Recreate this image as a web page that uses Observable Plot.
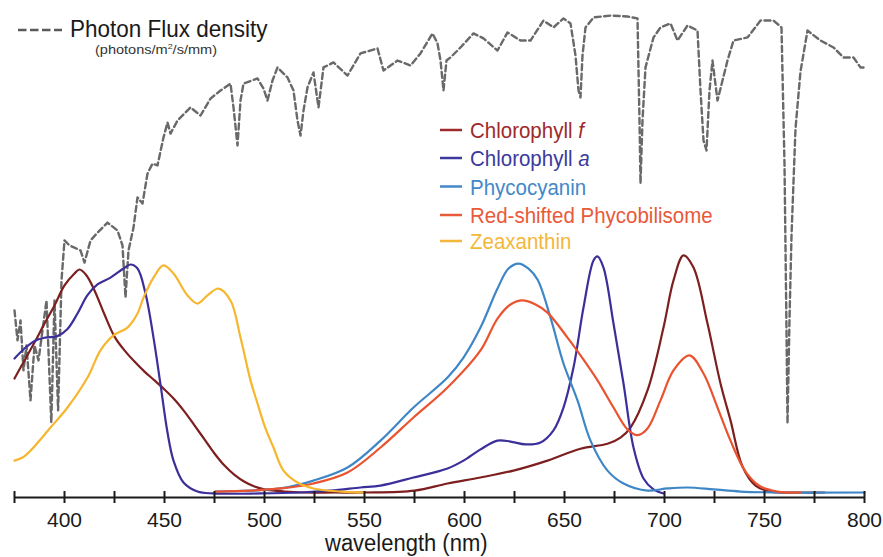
<!DOCTYPE html>
<html><head><meta charset="utf-8">
<script src="https://cdn.jsdelivr.net/npm/d3@7"></script>
<script src="https://cdn.jsdelivr.net/npm/@observablehq/plot@0.6"></script>
<style>
body{margin:0;background:#fff;}
#wrap{position:relative;width:883px;height:557px;}
#wrap svg{position:absolute;left:0;top:0;}
</style></head><body><div id="wrap"></div>
<script>
const FONT = '"Liberation Sans", Arial, Helvetica, sans-serif';

// Photon flux density (relative units, same scale as absorbance)
const fluxPts = [
[375,0.786],[376.5,0.660],[378,0.744],[379.5,0.534],[381,0.639],[383,0.408],[385,0.639],[387,0.576],[389,0.702],[391,0.828],
[393.4,0.315],[395,0.828],[396.8,0.366],[398.5,0.912],[400,1.080],[402.5,1.059],[405,1.050],[408,1.038],[410,0.987],[413,1.080],
[416.5,1.113],[421.5,1.155],[426.5,1.122],[429,1.059],[430.5,0.840],[432,1.038],[434.5,1.134],[436.5,1.261],[439,1.235],[441.5,1.361],
[444,1.403],[446.5,1.395],[449.5,1.513],[451.5,1.576],[453,1.529],[456.5,1.584],[463,1.639],[468,1.605],[473,1.676],[478,1.710],
[483,1.739],[484.5,1.639],[486.5,1.479],[488,1.668],[489.5,1.739],[496.5,1.761],[499.5,1.718],[501.5,1.668],[504,1.752],[506.5,1.807],
[511.5,1.765],[514.5,1.710],[516.5,1.584],[518,1.521],[519.5,1.626],[521.5,1.723],[524.5,1.786],[527,1.639],[529.5,1.807],[534.5,1.828],
[541.5,1.773],[548,1.866],[556.5,1.887],[559.5,1.794],[566.5,1.836],[573,1.815],[578,1.866],[584,1.950],[586.5,1.908],[588,1.836],
[589.5,1.710],[591,1.836],[593,1.849],[598,1.891],[604.5,1.950],[609.5,1.929],[616.5,1.878],[621.5,1.954],[628,1.920],[633,1.920],
[639.5,2.004],[644.5,1.975],[649.5,2.013],[653,1.992],[655.5,1.857],[657,1.710],[658,1.681],[659,1.857],[660.5,1.975],[664.5,2.017],
[673,2.025],[681.5,2.021],[686.5,2.013],[687.5,1.584],[688,1.319],[689,1.584],[690.5,1.807],[694.5,1.933],[698,1.975],[703,1.992],
[706.5,1.920],[711.5,1.983],[716.5,1.962],[718,1.710],[719.5,1.500],[721,1.458],[722.5,1.710],[724,1.836],[726.5,1.668],[729,1.752],
[731.5,1.836],[734.5,1.920],[741.5,1.933],[748,2.004],[754.5,2.004],[758.5,1.975],[760,1.400],[761,0.700],[761.5,0.311],[762.5,0.750],
[763.5,1.100],[765.5,1.550],[768,1.790],[771.5,1.962],[778,1.920],[784.5,1.891],[789.5,1.849],[794.5,1.849],[798,1.807],[800,1.807]
];

const chlF = [
[375,0.500],[380,0.576],[385,0.651],[390,0.731],[395,0.807],[400,0.891],[405,0.941],[407.5,0.958],[411,0.933],[415,0.870],
[420,0.769],[425,0.676],[430,0.618],[435,0.571],[440,0.529],[445,0.492],[450,0.454],[455,0.412],[460,0.361],[465,0.303],
[470,0.244],[475,0.185],[480,0.134],[485,0.095],[490,0.066],[495,0.046],[500,0.034],[510,0.025],[520,0.021],[535,0.021],
[550,0.021],[575,0.029],[591.5,0.059],[608,0.084],[624.5,0.113],[641.5,0.155],[658,0.205],[671.5,0.226],[678,0.252],[683,0.294],
[691.5,0.450],[699.5,0.714],[704.5,0.912],[709.5,1.017],[714.5,0.966],[721.5,0.731],[728,0.479],[733,0.324],[739,0.130],[745.5,0.050],
[753,0.025],[768,0.021],[780,0.021]
];

const chlA = [
[375,0.584],[380,0.626],[385.5,0.660],[390.5,0.672],[396.5,0.678],[401.5,0.708],[406.5,0.773],[411.5,0.850],[416.5,0.895],[423,0.924],
[429.5,0.962],[433,0.979],[436.5,0.962],[440.5,0.857],[444.5,0.672],[448,0.475],[451.5,0.273],[454.5,0.155],[459.5,0.063],[466.5,0.025],
[474.5,0.017],[498,0.017],[518,0.021],[533,0.029],[548,0.042],[558,0.050],[574.5,0.084],[591.5,0.122],[599.5,0.155],[608,0.202],
[616.5,0.239],[623,0.235],[630.5,0.223],[638,0.231],[644.5,0.282],[649.5,0.378],[654.5,0.546],[659.5,0.798],[664.5,0.996],[666.5,1.013],
[669.5,0.966],[674.5,0.731],[679.5,0.479],[684.5,0.210],[689.5,0.080],[694.5,0.034],[699.5,0.017]
];

const phycocyanin = [
[475.5,0.025],[493,0.029],[508,0.038],[524.5,0.071],[541.5,0.126],[558,0.239],[574.5,0.378],[591.5,0.504],[599.5,0.588],[608,0.714],
[616.5,0.878],[622,0.962],[627,0.983],[632,0.962],[636.5,0.916],[643,0.756],[649.5,0.563],[656.5,0.408],[663,0.239],[671.5,0.113],
[679.5,0.059],[691.5,0.029],[701.5,0.038],[711.5,0.042],[724.5,0.034],[738,0.025],[758,0.021],[800,0.021]
];

const redPBS = [
[475.5,0.025],[493,0.029],[508,0.038],[524.5,0.059],[541.5,0.105],[558,0.210],[574.5,0.336],[591.5,0.462],[608,0.618],[616.5,0.752],
[623,0.811],[629,0.828],[635.5,0.811],[641.5,0.777],[651.5,0.672],[658,0.597],[666.5,0.492],[674.5,0.378],[681.5,0.286],[686.5,0.262],
[691.5,0.290],[698,0.408],[704.5,0.534],[712.5,0.597],[719.5,0.521],[726.5,0.378],[733,0.239],[740.5,0.109],[748,0.046],[756.5,0.025],
[768,0.021]
];

const zeaxanthin = [
[375,0.155],[379,0.168],[383,0.197],[393,0.294],[401.5,0.378],[411.5,0.504],[418,0.618],[424.5,0.681],[431.5,0.714],[436.5,0.773],
[439.5,0.840],[444.5,0.924],[449.5,0.975],[454.5,0.941],[461.5,0.849],[466.5,0.815],[471.5,0.849],[477,0.878],[483,0.828],[488,0.672],
[493,0.492],[496.5,0.395],[500.5,0.290],[504.5,0.210],[509.5,0.113],[516.5,0.063],[524.5,0.038],[538,0.025],[549.5,0.021]
];

const seriesNames = ["Chlorophyll f", "Chlorophyll a", "Phycocyanin", "Red-shifted Phycobilisome", "Zeaxanthin"];
const seriesData = [chlF, chlA, phycocyanin, redPBS, zeaxanthin];
const lineColors = ["#7d1f1f", "#3b2f9a", "#3f86c7", "#e9532f", "#f6b62e"];
const textColors = ["#9e2a2b", "#3c3a9e", "#4488c8", "#e85a3a", "#f3b73c"];

const tickValues = d3.range(375, 801, 25);
const labelValues = d3.range(400, 801, 50);

const flux = fluxPts.map(([wl, v]) => ({wl, v}));

const chart = Plot.plot({
  width: 883, height: 557,
  marginLeft: 14, marginRight: 19, marginTop: 21, marginBottom: 60,
  x: {domain: [375, 800]},
  y: {domain: [0, 2], axis: null},
  style: {fontFamily: FONT, fontSize: "21px", background: "transparent", color: "#1a1a1a"},
  marks: [
    Plot.line(flux, {x: "wl", y: "v", stroke: "#696969", strokeWidth: 2.4, strokeDasharray: "6,3.5"}),
    ...seriesData.map((pts, i) => Plot.line(pts, {x: d => d[0], y: d => d[1], stroke: lineColors[i], strokeWidth: 2.2, curve: "catmull-rom"})),
    Plot.ruleY([0], {stroke: "#1a1a1a", strokeWidth: 2}),
    Plot.axisX({ticks: tickValues, tickSize: 12, dy: -6, tickFormat: () => "", label: null, stroke: "#1a1a1a", strokeWidth: 2}),
    Plot.axisX({ticks: labelValues, tickSize: 0, tickPadding: 15, label: null, fontSize: 21, fill: "#1a1a1a"})
  ]
});
document.getElementById("wrap").appendChild(chart);

// Legends and axis title overlay
const leg = d3.select("#wrap").append("svg").attr("width", 883).attr("height", 557)
  .style("font-family", FONT);

leg.append("line").attr("x1", 18).attr("x2", 62).attr("y1", 30).attr("y2", 30)
  .attr("stroke", "#5a5a5a").attr("stroke-width", 2.5).attr("stroke-dasharray", "8.5,3.5");
leg.append("text").attr("transform", "translate(70,37) scale(1,1.08)")
  .attr("font-size", 22.5).attr("fill", "#1a1a1a").text("Photon Flux density");
const sub = leg.append("text").attr("x", 95).attr("y", 53.5).attr("font-size", 13)
  .attr("fill", "#333").attr("textLength", 122).attr("lengthAdjust", "spacingAndGlyphs");
sub.append("tspan").text("(photons/m");
sub.append("tspan").attr("font-size", 8).attr("dy", -5).text("2");
sub.append("tspan").attr("dy", 5).text("/s/mm)");

const baselines = [138, 166, 194.5, 223, 249];
seriesNames.forEach((name, i) => {
  const b = baselines[i];
  leg.append("line").attr("x1", 440).attr("x2", 462).attr("y1", b - 8).attr("y2", b - 8)
    .attr("stroke", textColors[i]).attr("stroke-width", 2.5);
  const t = leg.append("text").attr("transform", `translate(470,${b}) scale(1,1.08)`)
    .attr("font-size", 20.5).attr("fill", textColors[i]);
  if (name.startsWith("Chlorophyll ")) {
    t.append("tspan").text("Chlorophyll ");
    t.append("tspan").attr("font-style", "italic").text(name.slice(12));
  } else {
    t.text(name);
  }
});

leg.append("text").attr("transform", "translate(325,551) scale(1,1.05)")
  .attr("font-size", 22).attr("fill", "#1a1a1a").text("wavelength (nm)");
</script>
</body></html>
